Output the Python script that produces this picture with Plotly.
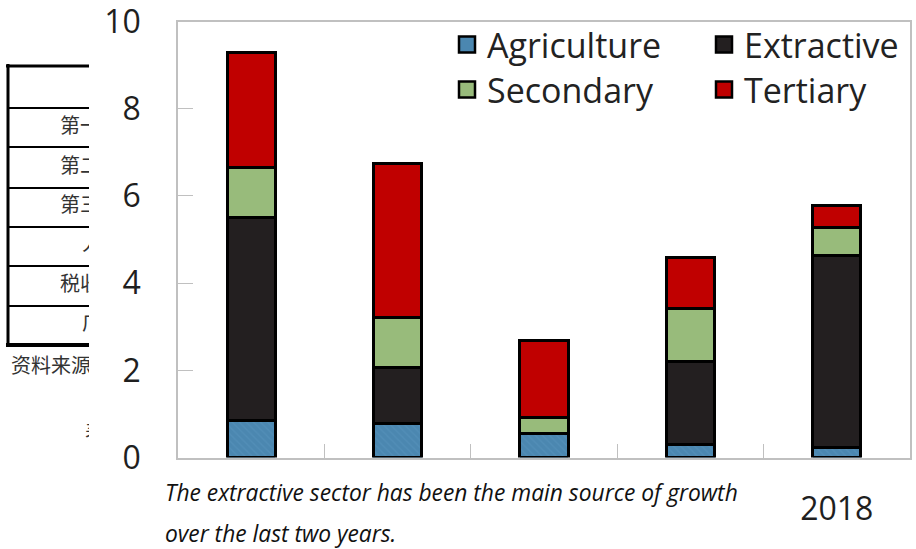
import plotly.graph_objects as go

# ---------------- data ----------------
years = ["2014", "2015", "2016", "2017", "2018"]
year_labels = ["", "", "", "", "2018"]
agriculture = [0.84, 0.78, 0.55, 0.29, 0.23]
extractive = [4.66, 1.29, 0.00, 1.91, 4.41]
secondary = [1.15, 1.15, 0.36, 1.21, 0.64]
tertiary = [2.63, 3.53, 1.78, 1.18, 0.49]

caption_lines = ["The extractive sector has been the main source of growth",
                 "over the last two years."]

# fragment of the underlying Chinese document (left edge, cut off by the chart)
table_rows = ["第一", "第二", "第三", "人", "税收", "广"]
table_row_y = [128, 168, 207, 246, 286, 325]
table_row_x = [60, 60, 60, 82, 60, 82]
note_texts = ["资料来源", "表"]
note_y = [368, 435]
note_x = [11, 85]
table_lines_y = [108, 147, 188, 227, 266, 306]

W, H = 916, 549

fig = go.Figure()

series = [
    ("Agriculture", agriculture, "#4b87b0", "legend"),
    ("Extractive", extractive, "#231f20", "legend"),
    ("Secondary", secondary, "#98bb7b", "legend2"),
    ("Tertiary", tertiary, "#c00000", "legend2"),
]
for name, vals, col, lg in series:
    marker = dict(color=col, line=dict(color="#000000", width=3))
    if name == "Agriculture":
        marker["pattern"] = dict(shape="\\", fgcolor="#5a95bd", size=5, solidity=0.25)
    fig.add_trace(go.Bar(x=years, y=vals, name=name, marker=marker,
                         width=0.33, legendgroup=name, showlegend=False))
    # legend entry with a larger square swatch
    fig.add_trace(go.Scatter(x=[None], y=[None], mode="markers", name=name,
                             legendgroup=name, legend=lg, hoverinfo="skip",
                             marker=dict(symbol="square", size=16, color=col,
                                         line=dict(color="#000000", width=2.5))))

# document fragment text (clipped on its own hidden axes)
cjk_font = dict(family="Noto Sans CJK SC", size=20, color="#333333")
fig.add_trace(go.Scatter(x=table_row_x, y=table_row_y, text=table_rows, mode="text",
                         textposition="middle right", cliponaxis=True, textfont=cjk_font,
                         xaxis="x2", yaxis="y2", showlegend=False, hoverinfo="skip"))
fig.add_trace(go.Scatter(x=note_x, y=note_y, text=note_texts, mode="text",
                         textposition="middle right", cliponaxis=True, textfont=cjk_font,
                         xaxis="x2", yaxis="y2", showlegend=False, hoverinfo="skip"))

shapes = []
for yy in table_lines_y:
    shapes.append(dict(type="line", xref="x2", yref="y2", x0=7, x1=100, y0=yy, y1=yy,
                       line=dict(color="#000000", width=2)))
shapes.append(dict(type="line", xref="x2", yref="y2", x0=6, x1=100, y0=66, y1=66,
                   line=dict(color="#000000", width=3)))
shapes.append(dict(type="line", xref="x2", yref="y2", x0=6, x1=100, y0=345, y1=345,
                   line=dict(color="#000000", width=4)))
shapes.append(dict(type="line", xref="x2", yref="y2", x0=8, x1=8, y0=64, y1=347,
                   line=dict(color="#000000", width=3)))

annotations = []
for i, line in enumerate(caption_lines):
    annotations.append(dict(text=line, xref="paper", yref="paper", x=163 / W,
                            y=1 - (492 + 41 * i) / H, xanchor="left", yanchor="middle",
                            showarrow=False,
                            font=dict(family="Open Sans", size=22.8,
                                      color="#111111", style="italic")))

tick_font = dict(family="Open Sans", size=32, color="#1f1f1f")
legend_font = dict(family="Open Sans", size=34, color="#222222")
legend_common = dict(xanchor="left", yanchor="top", traceorder="normal",
                     orientation="h", bgcolor="rgba(0,0,0,0)", tracegroupgap=0,
                     entrywidth=212, entrywidthmode="pixels", font=legend_font)
fig.update_layout(
    width=W, height=H,
    margin=dict(l=0, r=0, t=0, b=0, autoexpand=False),
    paper_bgcolor="white", plot_bgcolor="white",
    barmode="stack",
    xaxis=dict(domain=[178 / W, 910 / W], type="category", categoryorder="array",
               categoryarray=years, tickmode="array", tickvals=years, ticktext=year_labels,
               tickson="boundaries", ticks="inside", ticklen=14, tickcolor="#c0c0c0",
               showline=True, linecolor="#c0c0c0", linewidth=1.5, mirror=True,
               showgrid=False, tickfont=tick_font, ticklabelstandoff=22,
               range=[-0.5, 4.5], automargin=False),
    yaxis=dict(domain=[91.5 / H, 527.5 / H], range=[0, 10], tickvals=[0, 2, 4, 6, 8, 10],
               ticks="inside", ticklen=15, tickcolor="#c0c0c0", showline=True,
               linecolor="#c0c0c0", linewidth=1.5, mirror=True, showgrid=False,
               zeroline=False, tickfont=tick_font, ticklabelstandoff=29,
               ticklabeloverflow="allow", automargin=False),
    xaxis2=dict(domain=[0, 89 / W], range=[0, 89], visible=False, anchor="y2",
                automargin=False),
    yaxis2=dict(domain=[0, 1], range=[H, 0], visible=False, anchor="x2",
                automargin=False),
    legend=dict(x=447 / W, y=1 - 16 / H, **legend_common),
    legend2=dict(x=447 / W, y=1 - 61 / H, **legend_common),
    shapes=shapes,
    annotations=annotations,
)

fig.write_html("out.html", config={"responsive": False, "displayModeBar": False},
               post_script="document.body.style.margin='0px';"
                           "document.body.style.overflow='hidden';")
